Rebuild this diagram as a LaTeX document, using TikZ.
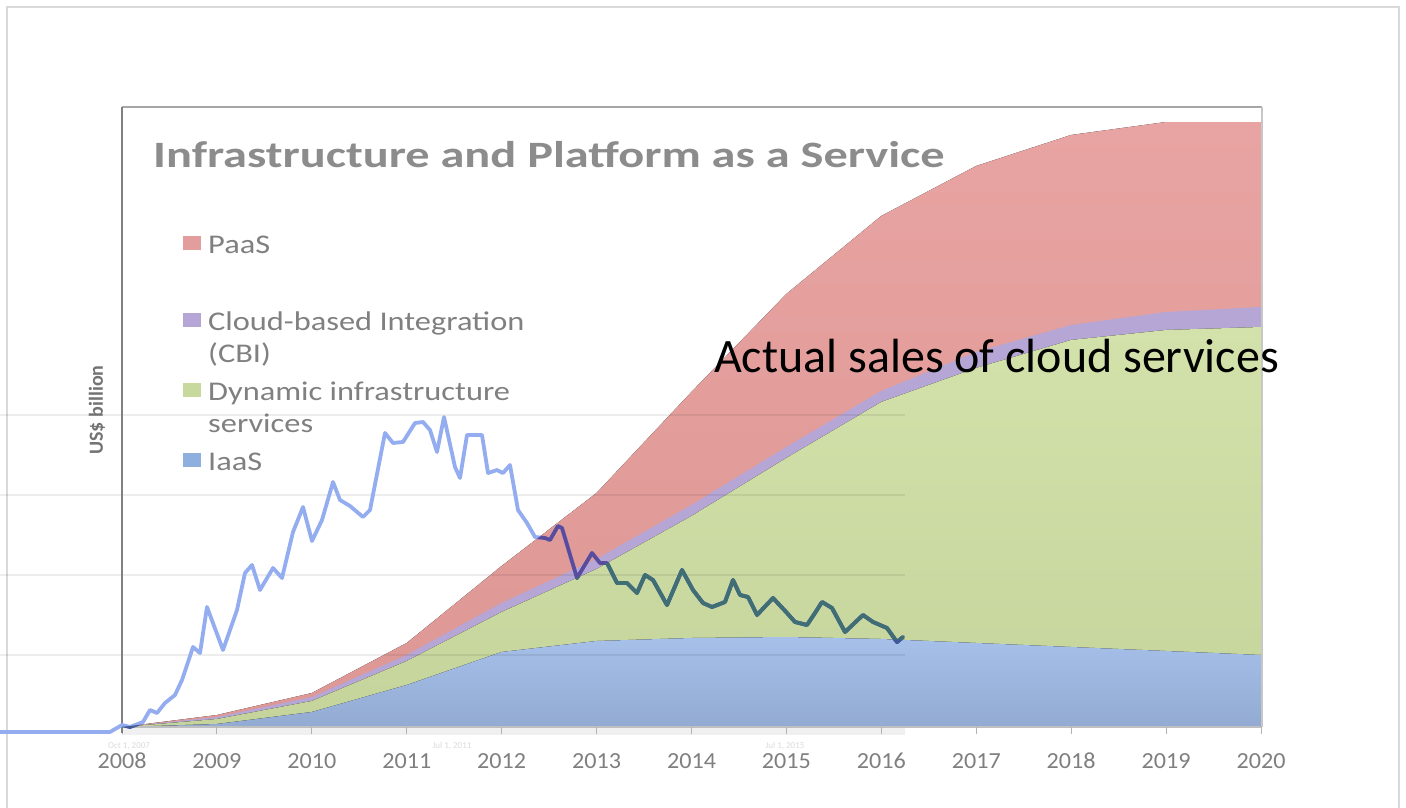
\documentclass[tikz,border=0pt]{standalone}
\usepackage{fontspec}
\setmainfont{Carlito}
\newfontfamily\titlefont[FakeStretch=1.3]{Carlito}
\newfontfamily\legfont[FakeStretch=1.2]{Carlito}
\newfontfamily\axfont[FakeStretch=1.05]{Carlito}
\definecolor{paasT}{HTML}{E8A4A2}
\definecolor{paasB}{HTML}{DD9795}
\definecolor{paasL}{HTML}{E39D9C}
\definecolor{cbi}{HTML}{B5A6D6}
\definecolor{dynT}{HTML}{D3E2AA}
\definecolor{dynB}{HTML}{C5D49B}
\definecolor{dynL}{HTML}{C8D99E}
\definecolor{iaasT}{HTML}{A6C0EA}
\definecolor{iaasB}{HTML}{93ABD2}
\definecolor{iaasL}{HTML}{8FB0DE}
\definecolor{legc}{HTML}{808080}
\definecolor{axc}{HTML}{7F7F7F}
\definecolor{lnW}{HTML}{93ADF0}
\definecolor{lnR}{HTML}{5B4B9C}
\definecolor{lnG}{HTML}{3F6F73}
\definecolor{lnB}{HTML}{40599E}
\def\redtop{(122,727) -- (216.9,715) -- (311.8,693) -- (406.7,643) -- (501.6,566) -- (596.5,493) -- (691.4,392) -- (786.3,294) -- (881.2,216) -- (976.1,166) -- (1071,135) -- (1165.9,122) -- (1261,122)}
\def\cbitop{(122,727) -- (216.9,717) -- (311.8,697) -- (406.7,655) -- (501.6,603) -- (596.5,559) -- (691.4,505) -- (786.3,447) -- (881.2,391) -- (976.1,352) -- (1071,325) -- (1165.9,312) -- (1261,307)}
\def\dyntop{(122,727) -- (216.9,719) -- (311.8,701) -- (406.7,661) -- (501.6,612) -- (596.5,569) -- (691.4,516) -- (786.3,458) -- (881.2,402) -- (976.1,368) -- (1071,340) -- (1165.9,330) -- (1261,327)}
\def\iaastop{(122,727) -- (216.9,724) -- (311.8,712) -- (406.7,685) -- (501.6,652) -- (596.5,641) -- (691.4,638) -- (786.3,637) -- (881.2,639) -- (976.1,643) -- (1071,647) -- (1165.9,651) -- (1261,655)}
\def\trendline{(0,732) -- (110,732) -- (122,725) -- (130,727) -- (143,722) -- (150,710) -- (157,713) -- (165,703) -- (175,695) -- (182,680) -- (193,647) -- (200,653) -- (207,607) -- (223,650) -- (237,610) -- (245,573) -- (252,565) -- (260,590) -- (273,568) -- (282,578) -- (293,532) -- (303,507) -- (312,541) -- (322,520) -- (333,482) -- (340,500) -- (350,506) -- (363,517) -- (370,510) -- (385,433) -- (393,443) -- (403,442) -- (415,423) -- (423,422) -- (430,430) -- (437,452) -- (444,417) -- (455,467) -- (460,478) -- (467,435) -- (482,435) -- (488,473) -- (497,470) -- (503,473) -- (510,465) -- (518,510) -- (527,523) -- (535,537) -- (545,538) -- (550,540) -- (558,526) -- (562,528) -- (577,578) -- (592,553) -- (600,563) -- (607,563) -- (617,583) -- (627,583) -- (637,593) -- (645,575) -- (653,580) -- (667,605) -- (682,570) -- (693,590) -- (703,603) -- (712,607) -- (725,602) -- (733,580) -- (740,595) -- (748,597) -- (757,615) -- (773,598) -- (787,613) -- (795,622) -- (807,625) -- (815,613) -- (822,602) -- (832,608) -- (845,632) -- (863,615) -- (873,622) -- (887,628) -- (897,642) -- (903,637)}
\begin{document}
\begin{tikzpicture}[x=1pt,y=-1pt,
  trend/.style={line width=3.8pt,line join=round,line cap=round},
  legtext/.style={anchor=base west,inner sep=0pt,font=\legfont\fontsize{27}{27}\selectfont,text=legc},
  legsq/.style={minimum width=18pt,minimum height=14pt,inner sep=0pt,draw=none},
  yearlab/.style={anchor=base,inner sep=0pt,font=\axfont\fontsize{23}{23}\selectfont,text=axc},
  faintlab/.style={anchor=base,inner sep=0pt,font=\fontsize{9}{9}\selectfont,text=black!14},
  gridl/.style={draw=black,opacity=0.07,line width=1.2pt}]
\useasboundingbox (0,0) rectangle (1406,808);
\fill[white] (0,0) rectangle (1406,808);
% outer frame
\draw[draw=black!15,line width=2pt] (7,808) -- (7,7) -- (1399,7) -- (1399,808);
% stacked areas
\fill[top color=paasT,bottom color=paasB] \redtop -- (1261,727) -- cycle;
\fill[cbi] \cbitop -- (1261,727) -- cycle;
\fill[top color=dynT,bottom color=dynB] \dyntop -- (1261,727) -- cycle;
\fill[top color=iaasT,bottom color=iaasB] \iaastop -- (1261,727) -- cycle;
% trends overlay band and gridlines
\fill[black!6] (122,728) rectangle (905,735);
\foreach \gy in {415,495,575,655} \draw[gridl] (0,\gy) -- (905,\gy);
% chart frame
\draw[draw=black!35,line width=1.5pt] (122,107) -- (1262,107);
\draw[draw=black!22,line width=1.2pt] (1262,107) -- (1262,727);
\draw[draw=black!25,line width=1.2pt] (122,727) -- (1262,727);
\foreach \k in {0,...,12} \draw[draw=black!30,line width=1pt] ({122+\k*94.92},727) -- ({122+\k*94.92},734);
\draw[draw=black!50,line width=1.5pt] (122,107) -- (122,733);
% trend line
\draw[trend,lnW] \trendline;
\begin{scope}
\clip \redtop -- (1261,727) -- cycle;
\draw[trend,lnR] \trendline;
\end{scope}
\begin{scope}
\clip \dyntop -- (1261,727) -- cycle;
\draw[trend,lnG] \trendline;
\end{scope}
\begin{scope}
\clip \iaastop -- (1261,727) -- (1261,732) -- (122,732) -- cycle;
\draw[trend,lnB] \trendline;
\end{scope}
% title
\node[anchor=base west,inner sep=0pt,font=\titlefont\bfseries\fontsize{37.2}{37.2}\selectfont,text=black!45] (title) at (153,167) {Infrastructure and Platform as a Service};
% y label
\node[rotate=90,inner sep=0pt,font=\bfseries\fontsize{20}{20}\selectfont,text=black!55] (ylab) at (97,410) {US\$ billion};
% legend
\node[legsq,fill=paasL] (sq1) at (192,243) {};
\node[legsq,fill=cbi] (sq2) at (192,320) {};
\node[legsq,fill=dynL] (sq3) at (192,390) {};
\node[legsq,fill=iaasL] (sq4) at (192,460) {};
\node[legtext] (l1) at (208,253) {PaaS};
\node[legtext] (l2a) at (208,330) {Cloud-based Integration};
\node[legtext] (l2b) at (208,362) {(CBI)};
\node[legtext] (l3a) at (208,400) {Dynamic infrastructure};
\node[legtext] (l3b) at (208,432) {services};
\node[legtext] (l4) at (208,470) {IaaS};
% faint trend dates
\node[faintlab] (d1) at (129,748) {Oct 1, 2007};
\node[faintlab] (d2) at (452,748) {Jul 1, 2011};
\node[faintlab] (d3) at (785,748) {Jul 1, 2015};
% year labels
\foreach \k/\yr in {0/2008,1/2009,2/2010,3/2011,4/2012,5/2013,6/2014,7/2015,8/2016,9/2017,10/2018,11/2019,12/2020}
  \node[yearlab] (yr\yr) at ({122+\k*94.92},768) {\yr};
% annotation
\node[anchor=base west,inner sep=0pt,font=\fontsize{48}{48}\selectfont,text=black] (actual) at (714,372) {Actual sales of cloud services};
\end{tikzpicture}
\end{document}
